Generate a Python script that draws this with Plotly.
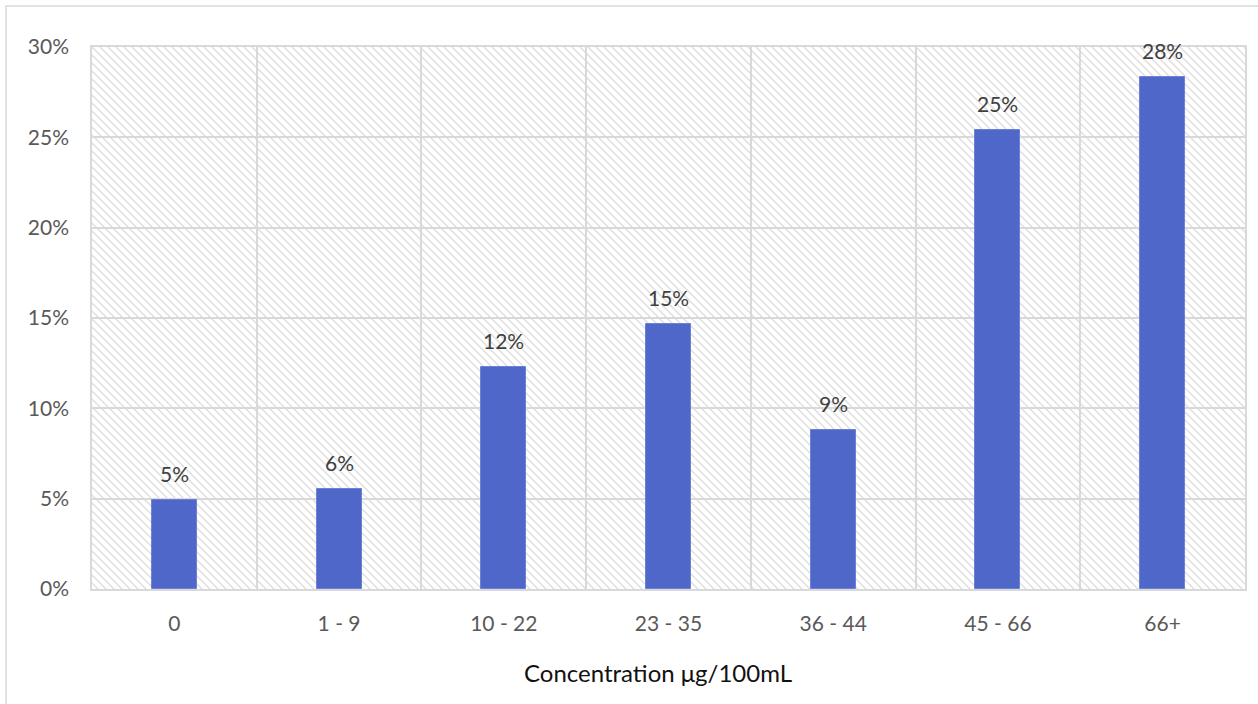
import base64
import plotly.graph_objects as go

# ---- data ----
categories = ["0", "1 - 9", "10 - 22", "23 - 35", "36 - 44", "45 - 66", "66+"]
shares = [0.0493, 0.0553, 0.1227, 0.1465, 0.0882, 0.2538, 0.2835]
x_title = "Concentration μg/100mL"
y_ticks = [0, 0.05, 0.10, 0.15, 0.20, 0.25, 0.30]

W, H = 1258, 704
ML, MR, MT, MB = 92, 13, 47, 115
PW, PH = W - ML - MR, H - MT - MB

FONT = "Lato"
BAR = "#4E67C8"
GRID = "#d9d9d9"

# hatched plot background as an SVG pattern image
svg = (
    f'<svg xmlns="http://www.w3.org/2000/svg" width="{PW}" height="{PH}" '
    f'viewBox="0 0 {PW} {PH}" preserveAspectRatio="none">'
    '<defs><pattern id="h" patternUnits="userSpaceOnUse" width="8" height="8">'
    '<rect width="8" height="8" fill="#ffffff"/>'
    '<path d="M-2,6 L2,10 M0,0 L8,8 M6,-2 L10,2" stroke="#e0e0e0" stroke-width="1.5"/>'
    '</pattern></defs>'
    f'<rect width="{PW}" height="{PH}" fill="url(#h)"/></svg>'
)
svg_uri = "data:image/svg+xml;base64," + base64.b64encode(svg.encode()).decode()

fig = go.Figure()
fig.add_trace(go.Bar(
    x=categories, y=shares, width=0.273,
    marker=dict(color=BAR, line=dict(color="#6C82D6", width=1)),
    hoverinfo="skip", showlegend=False,
))

# data labels
for c, v in zip(categories, shares):
    fig.add_annotation(
        x=c, y=v, xref="x", yref="y", text=f"{round(v * 100)}%",
        showarrow=False, yanchor="bottom", yshift=12,
        font=dict(family=FONT, size=21, color="#404040"),
    )

# x axis title
fig.add_annotation(
    x=(657.5 - ML) / PW, y=(H - MB - 672) / PH, xref="paper", yref="paper",
    text=x_title, showarrow=False, xanchor="center", yanchor="middle",
    font=dict(family=FONT, size=24, color="#111111"),
)

# outer chart border
fig.add_shape(
    type="rect", xref="paper", yref="paper",
    x0=(6 - ML) / PW, x1=(W + 20 - ML) / PW,
    y0=(H - MB - (H + 20)) / PH, y1=(H - MB - 6) / PH,
    line=dict(color=GRID, width=1.5), fillcolor="rgba(0,0,0,0)", layer="below",
)

fig.add_layout_image(
    source=svg_uri, xref="paper", yref="paper", x=0, y=1,
    sizex=1, sizey=1, sizing="stretch", xanchor="left", yanchor="top",
    layer="below",
)

fig.update_layout(
    width=W, height=H,
    margin=dict(l=ML, r=MR, t=MT, b=MB),
    paper_bgcolor="white", plot_bgcolor="rgba(0,0,0,0)",
    font=dict(family=FONT, size=21, color="#595959"),
    bargap=0,
)
fig.update_xaxes(
    type="category", range=[-0.5, len(categories) - 0.5],
    tickson="boundaries", ticks="", showgrid=True, gridcolor=GRID, gridwidth=1.5,
    showline=True, linecolor=GRID, linewidth=1.5, mirror=True,
    ticklabelstandoff=15, tickfont=dict(family=FONT, size=21, color="#595959"),
    fixedrange=True,
)
fig.update_yaxes(
    range=[0, 0.30], tickvals=y_ticks, tickformat=".0%",
    showgrid=True, gridcolor=GRID, gridwidth=1.5, zeroline=False,
    showline=True, linecolor=GRID, linewidth=1.5, mirror=True,
    ticklabelstandoff=17, tickfont=dict(family=FONT, size=21, color="#595959"),
    fixedrange=True,
)

fig.write_html(
    "out.html",
    config={"displayModeBar": False},
    post_script="document.body.style.margin='0';document.body.style.overflow='hidden';",
)
